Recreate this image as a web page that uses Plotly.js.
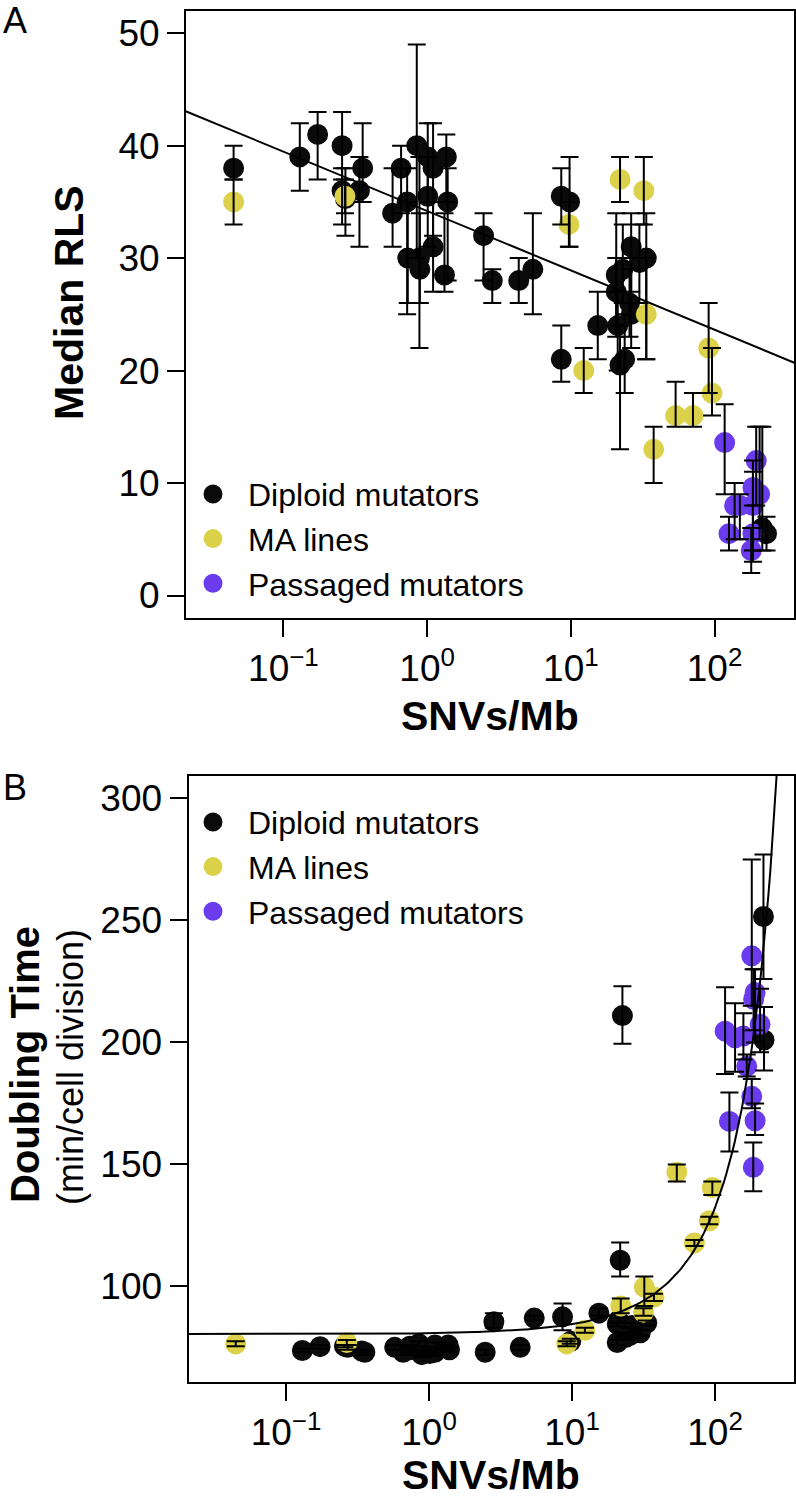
<!DOCTYPE html>
<html>
<head>
<meta charset="utf-8">
<script src="https://cdn.plot.ly/plotly-3.0.1.min.js"></script>
<style>html,body{margin:0;padding:0;background:#fff;}#chart{width:796px;height:1498px;}</style>
</head>
<body>
<div id="chart"></div>
<script>
// ---------- Panel A: Median RLS ----------
const dipA_x  = [0.045,0.13,0.173,0.256,0.256,0.27,0.338,0.356,0.575,0.659,0.726,0.733,0.847,0.884,0.89,1.01,1.1,1.01,1.1,1.32,1.36,1.39,2.47,2.84,4.34,5.44,8.58,9.8,8.58,15.4,20.7,20.7,23,30,26.3,33.5,25.6,26.3,21.2,23.7,22,230,215];
const dipA_y  = [38,39,41,40,36,35.3,36,38,34,38,35,30,40,30,29,39,38,35.5,31,28.5,39,35,32,28,28,29,35.5,35,21,24,28.5,27,29,29.6,31,30,26,25,24,21,20.5,5.5,6];
const dipA_lo = [37,36,37,37,33,32,31,35,31,34,25,26,30,22,26,35,32,31,27,27,35,28,28,26,26,25,33,31,19,21,24,23,26,26,27,21,23,22,20,18,13,4,4];
const dipA_hi = [40,42,43,43,38,38,39,42,38,40,38,35,49,39,34,42,42,39,35,34,41,38,34,29,30,34,38,39,24,27,34,30,33,33,34,34,29,30,27,25,24,7,15];

const maA_x  = [0.045,0.268,9.69,12.3,22,32.2,33.5,37.7,53.6,70.8,91,96];
const maA_y  = [35,35.5,33,20,37,36,25,13,16,16,22,18];
const maA_lo = [33,34,31,18,35,33,21,10,15,15,18,16];
const maA_hi = [37,37,35,22,39,39,30,15,19,18,26,22];

const paA_x  = [117.6,126,138,150,185,195,206,185,185,180];
const paA_y  = [13.6,5.5,8,8,9.6,12,9,8,5.5,4];
const paA_lo = [9,4,5,5,6,8,5,4,3,2];
const paA_hi = [17,7,10,9,12,15,15,11,8,6];

// regression line, panel A: RLS = a + b*log10(SNVs/Mb)
const fitA = {a: 34.19, b: -5.28};

// ---------- Panel B: Doubling time ----------
const dipB_x  = [0.13,0.173,0.256,0.27,0.338,0.356,0.575,0.659,0.726,0.733,0.847,0.884,0.89,1.01,1.1,1.01,1.1,1.32,1.36,1.39,2.47,2.84,4.34,5.44,8.58,9.8,15.4,20.7,20.7,21.7,22.5,23,25.5,26.3,30,33.3,21.2,23.7,25.6,218,220];
const dipB_y  = [73.7,75.3,75.5,75,73.5,73,75,73,74,75.5,76.5,73,72,74,76,72.5,73,75,76,74,73,85.5,75,87,87.5,77.5,89,77,84.5,110.7,211,80,82,84,81,85,86,79,80,251.6,201];
const dipB_lo = [73,74.5,75,74,73,72,74,72,73,75,75.5,72,71,73,75,71.5,72,74,75,73,72,83,74,86,82,76.5,88,76,83.5,104,199.5,79,81,83,80,84,85,78,79,226,188.5];
const dipB_hi = [74.5,76,76,76,74,74,76,74,75,76,77.5,74,73,75,77,73.5,74,76,77,75,74,89,76,88,93,78.5,91,78,85.5,118,223,81,83,85,82,86,87,80,81,277,214.5];

const maB_x  = [0.0445,0.266,9.18,12.3,21.9,32,37.4,31.6,54,71.7,91.2,95.7];
const maB_y  = [76.4,77,76.4,82,92,99.7,95.6,89.4,146.8,117.8,126.9,140.5];
const maB_lo = [75.5,76,75.5,81,89,92,94,88,143,116.5,125.5,137.5];
const maB_hi = [77.5,78,77.5,83,95,104,97,91,150,119,128.5,143];

const paB_x  = [117.5,126,138,157.8,166.6,180.6,190.5,186,206.4,180.6,190.5,185];
const paB_y  = [204.6,167.6,201.9,202.6,190.2,235.5,220.5,217.7,207.4,177.9,167.9,148.8];
const paB_lo = [187,155.3,188,193,186,215,200,205,196,173,162,139];
const paB_hi = [222.6,179.5,216,212,195,275,230,230,222,185,175,159];

// exponential fit, panel B: DT = a * exp(b * SNVs/Mb)
const fitB = {a: 80.4, b: 0.00498};

const seriesNames = ['Diploid mutators', 'MA lines', 'Passaged mutators'];
const seriesColors = ['#0b0b0b', '#DCD14A', '#6A3CEE'];
const xTickVals = [0.1, 1, 10, 100];
const xTickText = ['10<sup>\u22121</sup>', '10<sup>0</sup>', '10<sup>1</sup>', '10<sup>2</sup>'];
const yTicksA = [0, 10, 20, 30, 40, 50];
const yTicksB = [100, 150, 200, 250, 300];

// ---------- build traces ----------
function markerTrace(x, y, i, xa, ya, legendId) {
  return {x: x, y: y, type: 'scatter', mode: 'markers', name: seriesNames[i],
    xaxis: xa, yaxis: ya, legend: legendId,
    marker: {color: seriesColors[i], size: 18, line: {color: seriesColors[i], width: 3}},
    hoverinfo: 'x+y'};
}
function errorTrace(x, y, lo, hi, xa, ya) {
  return {x: x, y: y, type: 'scatter', mode: 'markers', xaxis: xa, yaxis: ya,
    showlegend: false, hoverinfo: 'skip',
    marker: {color: 'rgba(0,0,0,0)', size: 2},
    error_y: {type: 'data', symmetric: false,
      array: hi.map((h, k) => h - y[k]), arrayminus: lo.map((l, k) => y[k] - l),
      color: '#000', thickness: 2, width: 9}};
}

const lineXA = [0.01, 1000];
const lineXB = [];
for (let k = 0; k <= 300; k++) lineXB.push(Math.pow(10, -2 + k * 0.0155));

const traces = [
  markerTrace(dipA_x, dipA_y, 0, 'x', 'y', 'legend'),
  markerTrace(maA_x, maA_y, 1, 'x', 'y', 'legend'),
  markerTrace(paA_x, paA_y, 2, 'x', 'y', 'legend'),
  errorTrace(dipA_x, dipA_y, dipA_lo, dipA_hi, 'x', 'y'),
  errorTrace(maA_x, maA_y, maA_lo, maA_hi, 'x', 'y'),
  errorTrace(paA_x, paA_y, paA_lo, paA_hi, 'x', 'y'),
  {x: lineXA, y: lineXA.map(v => fitA.a + fitA.b * Math.log10(v)), type: 'scatter', mode: 'lines',
   xaxis: 'x', yaxis: 'y', showlegend: false, hoverinfo: 'skip', line: {color: '#000', width: 2}},

  markerTrace(dipB_x, dipB_y, 0, 'x2', 'y2', 'legend2'),
  markerTrace(maB_x, maB_y, 1, 'x2', 'y2', 'legend2'),
  markerTrace(paB_x, paB_y, 2, 'x2', 'y2', 'legend2'),
  errorTrace(dipB_x, dipB_y, dipB_lo, dipB_hi, 'x2', 'y2'),
  errorTrace(maB_x, maB_y, maB_lo, maB_hi, 'x2', 'y2'),
  errorTrace(paB_x, paB_y, paB_lo, paB_hi, 'x2', 'y2'),
  {x: lineXB, y: lineXB.map(v => fitB.a * Math.exp(fitB.b * v)), type: 'scatter', mode: 'lines',
   xaxis: 'x2', yaxis: 'y2', showlegend: false, hoverinfo: 'skip', line: {color: '#000', width: 2}}
];

const W = 796, H = 1498;
const FONT = 'Liberation Sans, Arial, Helvetica, sans-serif';
function px(xp) { return xp / W; }
function py(yp) { return 1 - yp / H; }

const axisCommon = {showline: true, linecolor: '#000', linewidth: 2, mirror: true,
  ticks: 'outside', ticklen: 17, tickwidth: 2, tickcolor: '#000',
  showgrid: false, zeroline: false, automargin: false,
  tickfont: {family: FONT, size: 37, color: '#000'}};

const layout = {
  width: W, height: H,
  margin: {l: 0, r: 0, t: 0, b: 0},
  paper_bgcolor: '#fff', plot_bgcolor: '#fff',
  font: {family: FONT, color: '#000'},
  showlegend: true,
  xaxis: Object.assign({}, axisCommon, {domain: [px(186), px(794)], type: 'log', range: [-1.678, 2.553],
    tickvals: xTickVals, ticktext: xTickText, anchor: 'y'}),
  yaxis: Object.assign({}, axisCommon, {domain: [py(618), py(10.7)], range: [-2, 52],
    tickvals: yTicksA, anchor: 'x'}),
  xaxis2: Object.assign({}, axisCommon, {domain: [px(188.5), px(794)], type: 'log', range: [-1.682, 2.552],
    tickvals: xTickVals, ticktext: xTickText, anchor: 'y2'}),
  yaxis2: Object.assign({}, axisCommon, {domain: [py(1382), py(776)], range: [60.8, 309.2],
    tickvals: yTicksB, anchor: 'x2'}),
  legend: {x: px(178), y: py(466.7), xanchor: 'left', yanchor: 'top', bgcolor: 'rgba(0,0,0,0)',
    itemwidth: 60, font: {family: FONT, size: 32, color: '#000'}},
  legend2: {x: px(178), y: py(794.7), xanchor: 'left', yanchor: 'top', bgcolor: 'rgba(0,0,0,0)',
    itemwidth: 60, font: {family: FONT, size: 32, color: '#000'}},
  annotations: [
    {text: 'A', x: px(1), y: py(21), xref: 'paper', yref: 'paper', xanchor: 'left', yanchor: 'middle',
     showarrow: false, font: {family: FONT, size: 36}},
    {text: 'B', x: px(1), y: py(787), xref: 'paper', yref: 'paper', xanchor: 'left', yanchor: 'middle',
     showarrow: false, font: {family: FONT, size: 36}},
    {text: '<b>Median RLS</b>', x: px(69), y: py(303), xref: 'paper', yref: 'paper', textangle: -90,
     xanchor: 'center', yanchor: 'middle', showarrow: false, font: {family: FONT, size: 41}},
    {text: '<b>SNVs/Mb</b>', x: px(490), y: py(716), xref: 'paper', yref: 'paper',
     xanchor: 'center', yanchor: 'middle', showarrow: false, font: {family: FONT, size: 41}},
    {text: '<b>Doubling Time</b>', x: px(25), y: py(1065), xref: 'paper', yref: 'paper', textangle: -90,
     xanchor: 'center', yanchor: 'middle', showarrow: false, font: {family: FONT, size: 40}},
    {text: '(min/cell division)', x: px(70), y: py(1067), xref: 'paper', yref: 'paper', textangle: -90,
     xanchor: 'center', yanchor: 'middle', showarrow: false, font: {family: FONT, size: 36}},
    {text: '<b>SNVs/Mb</b>', x: px(491), y: py(1475), xref: 'paper', yref: 'paper',
     xanchor: 'center', yanchor: 'middle', showarrow: false, font: {family: FONT, size: 41}}
  ]
};

Plotly.newPlot('chart', traces, layout, {displayModeBar: false, staticPlot: true});
</script>
</body>
</html>
